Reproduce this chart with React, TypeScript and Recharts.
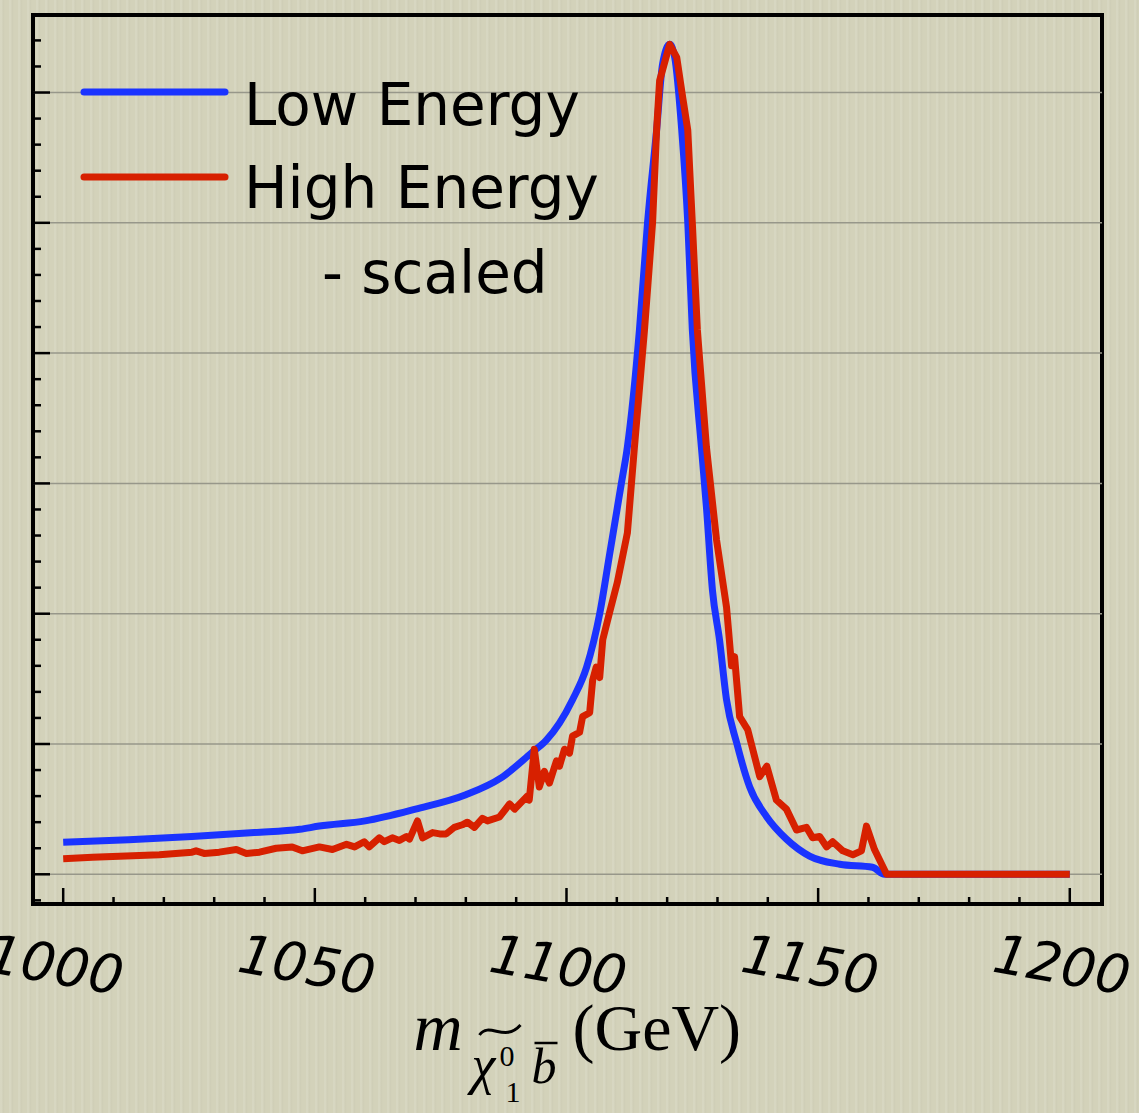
import React from "react";
import {
  LineChart,
  Line,
  XAxis,
  YAxis,
  ReferenceLine,
  ReferenceArea,
  Legend,
} from "recharts";

// invariant mass (GeV) and scaled counts
const lowEnergyMass = [
  1000, 1013, 1025.6, 1038, 1047, 1050.9, 1060, 1070, 1080, 1087, 1093, 1096,
  1098.6, 1101.2, 1104, 1106.6, 1108.5, 1110.9, 1112.1, 1114.5, 1116.1, 1117.9,
  1119.1, 1120.5, 1121.5, 1122.9, 1124.1, 1125, 1126.8, 1127.8, 1129, 1130.4,
  1131.8, 1133.8, 1136.4, 1139.8, 1143.7, 1148.3, 1154.3, 1160.8, 1163.2, 1200,
];
const lowEnergyValue = [
  0.245, 0.265, 0.29, 0.32, 0.345, 0.37, 0.41, 0.5, 0.61, 0.74, 0.93, 1.03,
  1.16, 1.34, 1.59, 2.0, 2.44, 3.0, 3.28, 4.18, 5.0, 5.71,
  6.22, 6.37, 6.27, 5.71, 5.0, 4.18, 3.28, 2.82, 2.18, 1.8,
  1.34, 1.01, 0.67, 0.44, 0.27, 0.14, 0.077, 0.054, 0, 0,
];

const highEnergyMass = [
  1000, 1005.8, 1012.5, 1019.1, 1025.6, 1026.4, 1028, 1031, 1034.4, 1036.4,
  1039, 1042.3, 1045.5, 1047.5, 1050.9, 1053.5, 1056.3, 1057.9, 1059.8, 1060.8,
  1062.8, 1063.8, 1065.4, 1066.8, 1068.2, 1068.8, 1070.4, 1071.4, 1073.4, 1074.8,
  1076.1, 1077.7, 1079.3, 1080.3, 1081.7, 1083.3, 1084.3, 1086.7, 1088.7, 1089.7,
  1092.2, 1092.6, 1093.6, 1094.6, 1095.6, 1096.6, 1098, 1098.6, 1099.6, 1100.6,
  1101.2, 1102.6, 1103.2, 1104.6, 1105.2, 1105.9, 1106.6, 1107.2, 1108.5, 1110.1,
  1112.1, 1113.5, 1115.5, 1117.1, 1117.9, 1118.5, 1120.5, 1121.9, 1123.1, 1124.1,
  1125, 1126, 1127.8, 1129.8, 1131.8, 1132.8, 1133.4, 1134.4, 1136, 1138.4,
  1139.8, 1141.7, 1143.7, 1145.7, 1147.7, 1148.9, 1150.3, 1151.7, 1152.9, 1154.9,
  1156.9, 1158.6, 1159.6, 1161.2, 1163.6, 1200,
];
const highEnergyValue = [
  0.12, 0.13, 0.14, 0.15, 0.17, 0.18, 0.16, 0.17, 0.19, 0.16,
  0.17, 0.2, 0.21, 0.18, 0.21, 0.19, 0.23, 0.21, 0.25, 0.21,
  0.28, 0.25, 0.28, 0.26, 0.29, 0.27, 0.41, 0.28, 0.32, 0.31,
  0.31, 0.36, 0.38, 0.4, 0.36, 0.43, 0.41, 0.44, 0.54, 0.5,
  0.6, 0.57, 0.96, 0.67, 0.79, 0.7, 0.87, 0.83, 0.96, 0.93,
  1.06, 1.09, 1.21, 1.24, 1.49, 1.59, 1.51, 1.8, 2.0, 2.24,
  2.62, 3.28, 4.18, 5.0, 5.71, 6.09, 6.37, 6.27, 5.96, 5.71,
  5.0, 4.18, 3.28, 2.57, 2.05, 1.6, 1.67, 1.21, 1.11, 0.75,
  0.83, 0.57, 0.5, 0.34, 0.36, 0.28, 0.29, 0.21, 0.25, 0.18,
  0.15, 0.18, 0.37, 0.19, 0, 0,
];

const seriesNames = ["Low Energy", "High Energy"];
const legendNote = "- scaled";

const xTicks = [
  1000, 1010, 1020, 1030, 1040, 1050, 1060, 1070, 1080, 1090, 1100,
  1110, 1120, 1130, 1140, 1150, 1160, 1170, 1180, 1190, 1200,
];
const xLabels = [1000, 1050, 1100, 1150, 1200];
const yTicks = [
  -0.2, 0, 0.2, 0.4, 0.6, 0.8, 1, 1.2, 1.4, 1.6, 1.8, 2, 2.2, 2.4, 2.6, 2.8, 3,
  3.2, 3.4, 3.6, 3.8, 4, 4.2, 4.4, 4.6, 4.8, 5, 5.2, 5.4, 5.6, 5.8, 6, 6.2, 6.4,
];
const gridValues = [0, 1, 2, 3, 4, 5, 6];
const xDomain = [994, 1206.4];
const yDomain = [-0.228, 6.595];

const lowData = lowEnergyMass.map((m, i) => ({ m, v: lowEnergyValue[i] }));
const highData = highEnergyMass.map((m, i) => ({ m, v: highEnergyValue[i] }));

function XTick({ x, y, payload }: any) {
  const major = xLabels.includes(payload.value);
  const tx = x - 8;
  const ty = y + 61;
  return (
    <g>
      <line x1={x} x2={x} y1={y} y2={y - (major ? 16 : 7)} stroke="#000" strokeWidth={2.5} />
      {major && (
        <text
          x={tx}
          y={ty}
          textAnchor="middle"
          dominantBaseline="central"
          transform={`rotate(10 ${tx} ${ty})`}
          fontFamily="DejaVu Sans"
          fontStyle="italic"
          fontSize={54}
          fill="#000"
        >
          {payload.value}
        </text>
      )}
    </g>
  );
}

function YTick({ x, y, payload }: any) {
  const v = payload.value;
  const major = Math.abs(v - Math.round(v)) < 1e-6;
  return <line x1={x} x2={x + (major ? 17 : 8)} y1={y} y2={y} stroke="#000" strokeWidth={2.5} />;
}

function AxisTitle({ viewBox }: any) {
  const cx = viewBox.x + viewBox.width / 2;
  const top = viewBox.y;
  return (
    <g fill="#000" fontFamily="Liberation Serif">
      <text x={cx - 154} y={top + 146} fontSize={68} fontStyle="italic">m</text>
      <path
        d={`M ${cx - 88} ${top + 131} C ${cx - 78} ${top + 117}, ${cx - 63} ${top + 139}, ${cx - 47} ${top + 121}`}
        stroke="#000"
        strokeWidth={3}
        fill="none"
      />
      <text x={cx - 96} y={top + 179} fontSize={54} fontStyle="italic">χ</text>
      <text x={cx - 68} y={top + 162} fontSize={30}>0</text>
      <text x={cx - 62} y={top + 198} fontSize={30}>1</text>
      <text x={cx - 36} y={top + 179} fontSize={50} fontStyle="italic">b</text>
      <line x1={cx - 33} x2={cx - 10} y1={top + 139} y2={top + 139} stroke="#000" strokeWidth={2.5} />
      <text x={cx + 5} y={top + 146} fontSize={66}>(GeV)</text>
    </g>
  );
}

function LegendBox({ payload }: any) {
  const items = payload || [];
  const lineY = [92, 177];
  const textY = [125, 208];
  return (
    <svg width={640} height={320} style={{ display: "block" }}>
      {seriesNames.map((name, i) => {
        const item = items.find((p: any) => p.value === name);
        return (
          <g key={name}>
            <line
              x1={84}
              x2={225}
              y1={lineY[i]}
              y2={lineY[i]}
              stroke={item ? item.color : "#000"}
              strokeWidth={7}
              strokeLinecap="round"
            />
            <text x={244} y={textY[i]} fontFamily="DejaVu Sans" fontSize={58} fill="#000">
              {name}
            </text>
          </g>
        );
      })}
      <text x={322} y={293} fontFamily="DejaVu Sans" fontSize={58} fill="#000">
        {legendNote}
      </text>
    </svg>
  );
}

export default function App() {
  return (
    <div
      style={{
        position: "absolute",
        left: 0,
        top: 0,
        width: 1139,
        height: 1113,
        backgroundColor: "#d3d2ba",
        backgroundImage:
          "repeating-linear-gradient(90deg, rgba(255,255,255,0.10) 0px, rgba(255,255,255,0.10) 2px, rgba(0,0,0,0.025) 3px, rgba(0,0,0,0) 5px, rgba(0,0,0,0) 9px)",
        overflow: "hidden",
      }}
    >
      <LineChart width={1139} height={1113} margin={{ top: 15, right: 37, bottom: 0, left: 0 }}>
        <XAxis
          dataKey="m"
          type="number"
          domain={xDomain}
          allowDataOverflow
          ticks={xTicks}
          interval={0}
          height={209}
          tickSize={0}
          tickMargin={0}
          axisLine={false}
          tickLine={false}
          tick={(p: any) => <XTick {...p} />}
          label={{ content: (p: any) => <AxisTitle {...p} /> }}
        />
        <YAxis
          type="number"
          domain={yDomain}
          allowDataOverflow
          ticks={yTicks}
          interval={0}
          width={33}
          tickSize={0}
          tickMargin={0}
          axisLine={false}
          tickLine={false}
          tick={(p: any) => <YTick {...p} />}
        />
        {gridValues.map((g) => (
          <ReferenceLine key={g} y={g} stroke="#97978a" strokeWidth={1.5} />
        ))}
        <Line
          data={lowData}
          dataKey="v"
          name={seriesNames[0]}
          type="monotone"
          stroke="#1a33ff"
          strokeWidth={7}
          strokeLinejoin="round"
          dot={false}
          isAnimationActive={false}
        />
        <Line
          data={highData}
          dataKey="v"
          name={seriesNames[1]}
          type="linear"
          stroke="#d72000"
          strokeWidth={7}
          strokeLinejoin="round"
          dot={false}
          isAnimationActive={false}
        />
        <ReferenceArea
          x1={xDomain[0]}
          x2={xDomain[1]}
          y1={yDomain[0]}
          y2={yDomain[1]}
          fill="none"
          stroke="#000"
          strokeWidth={4}
          ifOverflow="visible"
        />
        <Legend
          layout="vertical"
          align="center"
          verticalAlign="middle"
          wrapperStyle={{ left: 0, top: 0, width: 640, height: 320 }}
          content={(p: any) => <LegendBox {...p} />}
        />
      </LineChart>
    </div>
  );
}
